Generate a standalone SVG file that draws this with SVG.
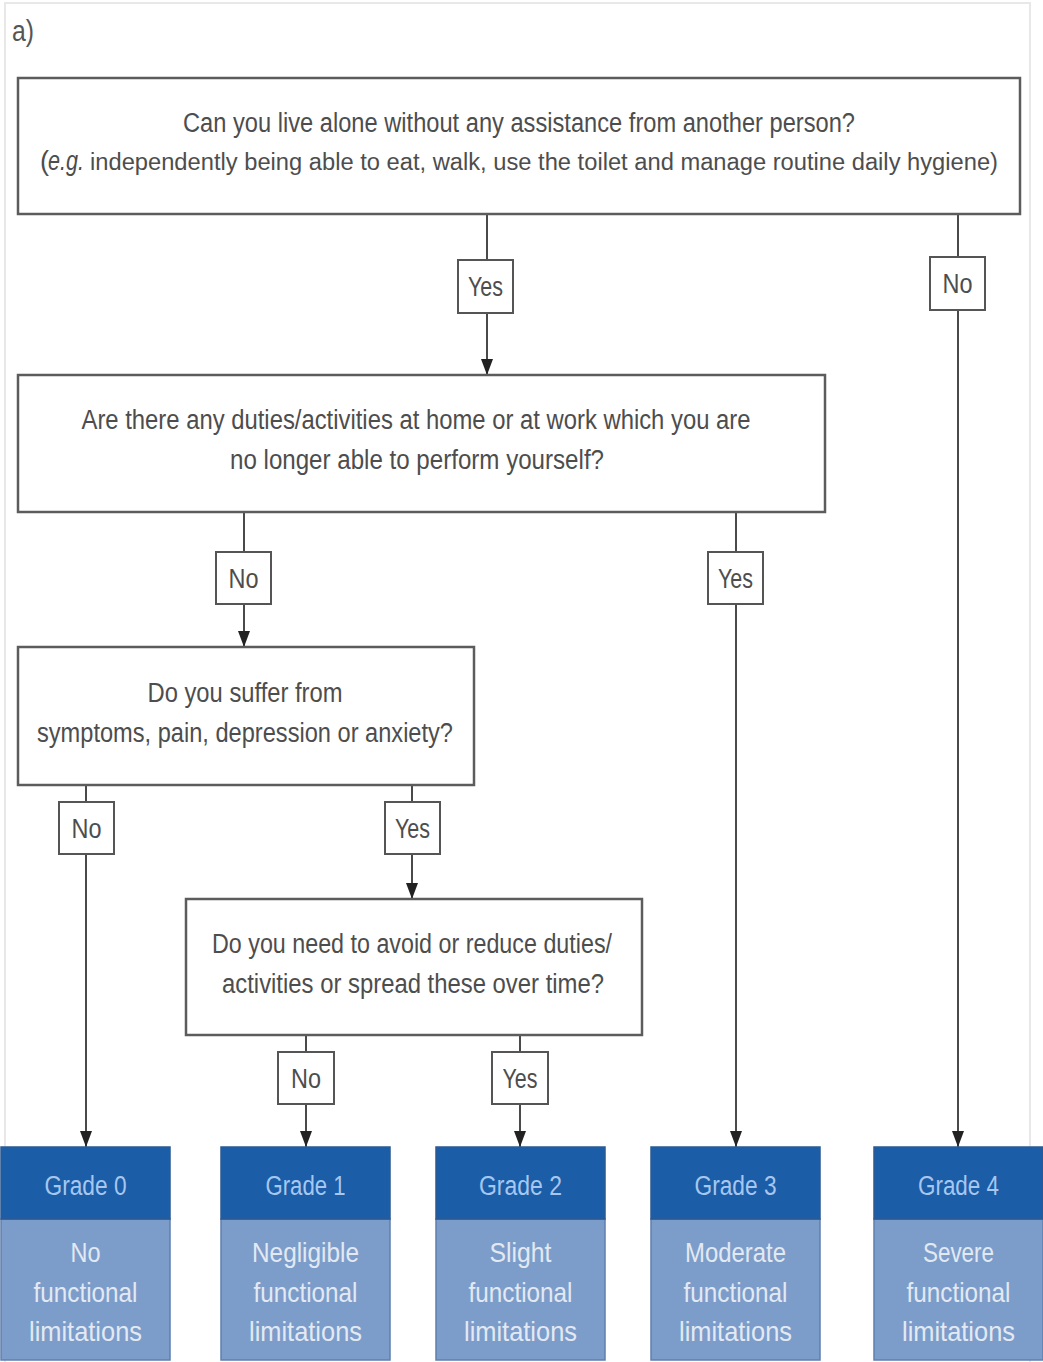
<svg xmlns="http://www.w3.org/2000/svg" width="1043" height="1362" viewBox="0 0 1043 1362">
<style>
  .q { fill: #ffffff; stroke: #5c5c5c; stroke-width: 2.5; }
  .qt { font-family: "Liberation Sans", Arial, sans-serif; font-size: 27px; fill: #4d4d4d; text-anchor: middle; }
  .qs { font-family: "Liberation Sans", Arial, sans-serif; font-size: 27px; fill: #4d4d4d; text-anchor: start; }
  .qsn { font-family: "Liberation Sans", Arial, sans-serif; font-size: 23px; fill: #4d4d4d; text-anchor: start; }
  .lbl { fill: #ffffff; stroke: #555555; stroke-width: 2; }
  .lt { font-family: "Liberation Sans", Arial, sans-serif; font-size: 27px; fill: #4d4d4d; text-anchor: middle; }
  .ln { stroke: #4a4a4a; stroke-width: 2; fill: none; marker-end: url(#arr); }
  .gh { fill: #1c5da7; stroke: #2b5a92; stroke-width: 1.5; }
  .gb { fill: #7c9dca; stroke: #5f7fae; stroke-width: 1.5; }
  .ght { font-family: "Liberation Sans", Arial, sans-serif; font-size: 27px; fill: #a6c7ef; text-anchor: middle; }
  .gbt { font-family: "Liberation Sans", Arial, sans-serif; font-size: 28px; fill: #e3e9f2; text-anchor: middle; }
</style>
<defs>
  <marker id="arr" markerUnits="userSpaceOnUse" markerWidth="16" markerHeight="12" refX="16" refY="6" orient="auto">
    <path d="M0,0 L16,6 L0,12 z" fill="#222222"/>
  </marker>
</defs>
<rect x="0" y="0" width="1043" height="1362" fill="#ffffff"/>
<rect x="5" y="3" width="1025" height="1375" fill="none" stroke="#e8e8e8" stroke-width="2"/>
<text x="12" y="41" font-family="Liberation Sans, Arial, sans-serif" font-size="29" fill="#555555" textLength="22" lengthAdjust="spacingAndGlyphs">a)</text>

<g id="connectors">
  <line class="ln" x1="487" y1="214" x2="487" y2="375"/>
  <line class="ln" x1="958" y1="214" x2="958" y2="1147"/>
  <line class="ln" x1="244" y1="512" x2="244" y2="647"/>
  <line class="ln" x1="736" y1="512" x2="736" y2="1147"/>
  <line class="ln" x1="86" y1="785" x2="86" y2="1147"/>
  <line class="ln" x1="412" y1="785" x2="412" y2="899"/>
  <line class="ln" x1="306" y1="1035" x2="306" y2="1147"/>
  <line class="ln" x1="520" y1="1035" x2="520" y2="1147"/>
  <g id="label-q1-yes"><rect class="lbl" x="458" y="260" width="55" height="53"/><text class="lt" x="485.5" y="296" textLength="35" lengthAdjust="spacingAndGlyphs">Yes</text></g>
  <g id="label-q1-no"><rect class="lbl" x="930" y="257" width="55" height="53"/><text class="lt" x="957.5" y="293" textLength="30" lengthAdjust="spacingAndGlyphs">No</text></g>
  <g id="label-q2-no"><rect class="lbl" x="216" y="552" width="55" height="52"/><text class="lt" x="243.5" y="588" textLength="30" lengthAdjust="spacingAndGlyphs">No</text></g>
  <g id="label-q2-yes"><rect class="lbl" x="708" y="552" width="55" height="52"/><text class="lt" x="735.5" y="588" textLength="35" lengthAdjust="spacingAndGlyphs">Yes</text></g>
  <g id="label-q3-no"><rect class="lbl" x="59" y="802" width="55" height="52"/><text class="lt" x="86.5" y="838" textLength="30" lengthAdjust="spacingAndGlyphs">No</text></g>
  <g id="label-q3-yes"><rect class="lbl" x="385" y="802" width="55" height="52"/><text class="lt" x="412.5" y="838" textLength="35" lengthAdjust="spacingAndGlyphs">Yes</text></g>
  <g id="label-q4-no"><rect class="lbl" x="278" y="1052" width="56" height="52"/><text class="lt" x="306" y="1088" textLength="30" lengthAdjust="spacingAndGlyphs">No</text></g>
  <g id="label-q4-yes"><rect class="lbl" x="492" y="1052" width="56" height="52"/><text class="lt" x="520" y="1088" textLength="35" lengthAdjust="spacingAndGlyphs">Yes</text></g>
</g>

<g id="q1">
  <rect class="q" x="18" y="78" width="1002" height="136"/>
  <text class="qt" x="519" y="132" textLength="672" lengthAdjust="spacingAndGlyphs">Can you live alone without any assistance from another person?</text>
  <text class="qs" x="40" y="170">(</text>
  <text class="qs" x="48" y="170" font-style="italic" textLength="36" lengthAdjust="spacingAndGlyphs">e.g.</text>
  <text class="qsn" x="90" y="170" textLength="908" lengthAdjust="spacingAndGlyphs">independently being able to eat, walk, use the toilet and manage routine daily hygiene)</text>
</g>
<g id="q2">
  <rect class="q" x="18" y="375" width="807" height="137"/>
  <text class="qt" x="416" y="429" textLength="669" lengthAdjust="spacingAndGlyphs">Are there any duties/activities at home or at work which you are</text>
  <text class="qt" x="417" y="469" textLength="374" lengthAdjust="spacingAndGlyphs">no longer able to perform yourself?</text>
</g>
<g id="q3">
  <rect class="q" x="18" y="647" width="456" height="138"/>
  <text class="qt" x="245" y="702" textLength="195" lengthAdjust="spacingAndGlyphs">Do you suffer from</text>
  <text class="qt" x="245" y="742" textLength="416" lengthAdjust="spacingAndGlyphs">symptoms, pain, depression or anxiety?</text>
</g>
<g id="q4">
  <rect class="q" x="186" y="899" width="456" height="136"/>
  <text class="qt" x="412" y="953" textLength="400" lengthAdjust="spacingAndGlyphs">Do you need to avoid or reduce duties/</text>
  <text class="qt" x="413" y="993" textLength="382" lengthAdjust="spacingAndGlyphs">activities or spread these over time?</text>
</g>

<g id="grade0">
  <rect class="gb" x="1" y="1219" width="169" height="141"/>
  <rect class="gh" x="1" y="1147" width="169" height="72"/>
  <text class="ght" x="85.5" y="1195" textLength="82" lengthAdjust="spacingAndGlyphs">Grade 0</text>
  <text class="gbt" x="85.5" y="1262" textLength="30" lengthAdjust="spacingAndGlyphs">No</text>
  <text class="gbt" x="85.5" y="1302" textLength="104" lengthAdjust="spacingAndGlyphs">functional</text>
  <text class="gbt" x="85.5" y="1341" textLength="113" lengthAdjust="spacingAndGlyphs">limitations</text>
</g>
<g id="grade1">
  <rect class="gb" x="221" y="1219" width="169" height="141"/>
  <rect class="gh" x="221" y="1147" width="169" height="72"/>
  <text class="ght" x="305.5" y="1195" textLength="80" lengthAdjust="spacingAndGlyphs">Grade 1</text>
  <text class="gbt" x="305.5" y="1262" textLength="107" lengthAdjust="spacingAndGlyphs">Negligible</text>
  <text class="gbt" x="305.5" y="1302" textLength="104" lengthAdjust="spacingAndGlyphs">functional</text>
  <text class="gbt" x="305.5" y="1341" textLength="113" lengthAdjust="spacingAndGlyphs">limitations</text>
</g>
<g id="grade2">
  <rect class="gb" x="436" y="1219" width="169" height="141"/>
  <rect class="gh" x="436" y="1147" width="169" height="72"/>
  <text class="ght" x="520.5" y="1195" textLength="83" lengthAdjust="spacingAndGlyphs">Grade 2</text>
  <text class="gbt" x="520.5" y="1262" textLength="62" lengthAdjust="spacingAndGlyphs">Slight</text>
  <text class="gbt" x="520.5" y="1302" textLength="104" lengthAdjust="spacingAndGlyphs">functional</text>
  <text class="gbt" x="520.5" y="1341" textLength="113" lengthAdjust="spacingAndGlyphs">limitations</text>
</g>
<g id="grade3">
  <rect class="gb" x="651" y="1219" width="169" height="141"/>
  <rect class="gh" x="651" y="1147" width="169" height="72"/>
  <text class="ght" x="735.5" y="1195" textLength="82" lengthAdjust="spacingAndGlyphs">Grade 3</text>
  <text class="gbt" x="735.5" y="1262" textLength="101" lengthAdjust="spacingAndGlyphs">Moderate</text>
  <text class="gbt" x="735.5" y="1302" textLength="104" lengthAdjust="spacingAndGlyphs">functional</text>
  <text class="gbt" x="735.5" y="1341" textLength="113" lengthAdjust="spacingAndGlyphs">limitations</text>
</g>
<g id="grade4">
  <rect class="gb" x="874" y="1219" width="169" height="141"/>
  <rect class="gh" x="874" y="1147" width="169" height="72"/>
  <text class="ght" x="958.5" y="1195" textLength="81" lengthAdjust="spacingAndGlyphs">Grade 4</text>
  <text class="gbt" x="958.5" y="1262" textLength="71" lengthAdjust="spacingAndGlyphs">Severe</text>
  <text class="gbt" x="958.5" y="1302" textLength="104" lengthAdjust="spacingAndGlyphs">functional</text>
  <text class="gbt" x="958.5" y="1341" textLength="113" lengthAdjust="spacingAndGlyphs">limitations</text>
</g>
</svg>
